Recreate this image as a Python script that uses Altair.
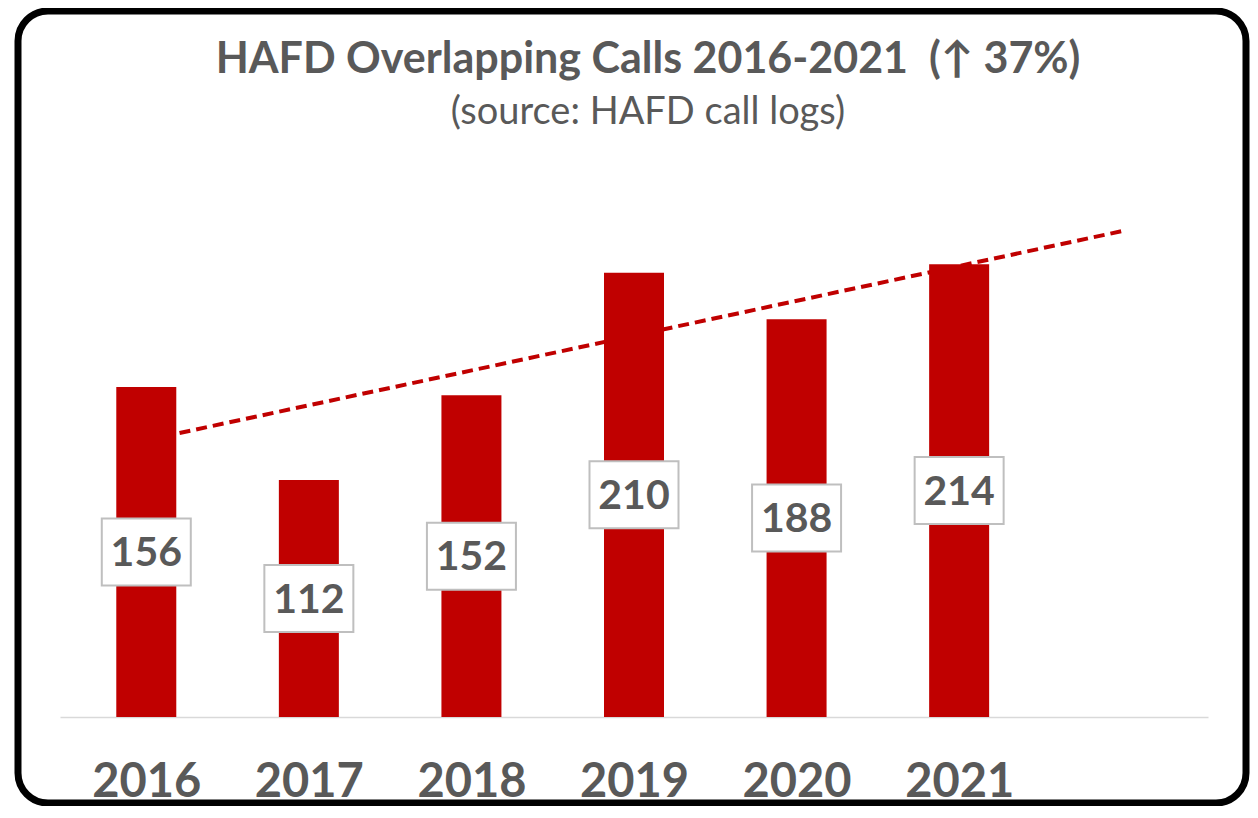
import altair as alt
import pandas as pd

years = [2016, 2017, 2018, 2019, 2020, 2021]
calls = [156, 112, 152, 210, 188, 214]

title_text = "HAFD Overlapping Calls 2016-2021\u00a0\u00a0(\u2191 37%)"
subtitle_text = "(source: HAFD call logs)"

RED = "#c00000"
GREY = "#595959"
FONT = "Lato"

df = pd.DataFrame({"year": years, "calls": calls})
one_df = pd.DataFrame({"k": [0]})

x_enc = alt.X(
    "year:Q",
    scale=alt.Scale(domain=[2015.5, 2022.5], nice=False, zero=False),
    axis=alt.Axis(
        values=years, format="d", title=None, grid=False, ticks=False, tickSize=0,
        labelFontSize=47, labelFont=FONT, labelFontWeight="bold", labelColor=GREY,
        labelBaseline="alphabetic", labelPadding=79,
        domainColor="#d9d9d9", domainWidth=1.5,
    ),
)
y_scale = alt.Scale(domain=[0, 250], nice=False)

frame = alt.Chart(one_df).mark_rect(
    filled=False, stroke="black", strokeWidth=7, cornerRadius=30
).encode(
    x=alt.value(-42), x2=alt.value(1186), y=alt.value(-177), y2=alt.value(615)
)

title_mark = alt.Chart(one_df).mark_text(
    font=FONT, fontSize=43, fontWeight="bold", color=GREY, align="center", baseline="alphabetic"
).encode(x=alt.value(588), y=alt.value(-115), text=alt.value(title_text))

subtitle_mark = alt.Chart(one_df).mark_text(
    font=FONT, fontSize=38, fontWeight="normal", color=GREY, align="center", baseline="alphabetic"
).encode(x=alt.value(588), y=alt.value(-64), text=alt.value(subtitle_text))

base = alt.Chart(df)

trend = base.transform_regression(
    "year", "calls", extent=[2016, 2022]
).mark_line(color=RED, strokeWidth=4, strokeDash=[11, 6]).encode(
    x=x_enc, y=alt.Y("calls:Q", scale=y_scale, axis=None)
)

bars = base.mark_bar(color=RED, size=60).encode(
    x=x_enc, y=alt.Y("calls:Q", scale=y_scale, axis=None)
)

mid = base.transform_calculate(mid="datum.calls / 2")

boxes = mid.mark_point(
    shape="M-1,-0.753H1V0.753H-1Z", filled=True, fill="white", opacity=1,
    stroke="#bfbfbf", strokeWidth=2, size=7921,
).encode(x=x_enc, y=alt.Y("mid:Q", scale=y_scale, axis=None))

labels = mid.mark_text(
    font=FONT, fontSize=41, fontWeight="bold", color=GREY, baseline="middle", align="center", dy=2
).encode(x=x_enc, y=alt.Y("mid:Q", scale=y_scale, axis=None), text="calls:Q")

chart = alt.layer(frame, title_mark, subtitle_mark, trend, bars, boxes, labels).properties(
    width=1148,
    height=529,
    padding={"left": 52, "top": 180, "right": 42, "bottom": 89},
    autosize="none",
).configure_view(stroke=None)

chart.save("out.html", embed_options={"renderer": "svg", "actions": False})
